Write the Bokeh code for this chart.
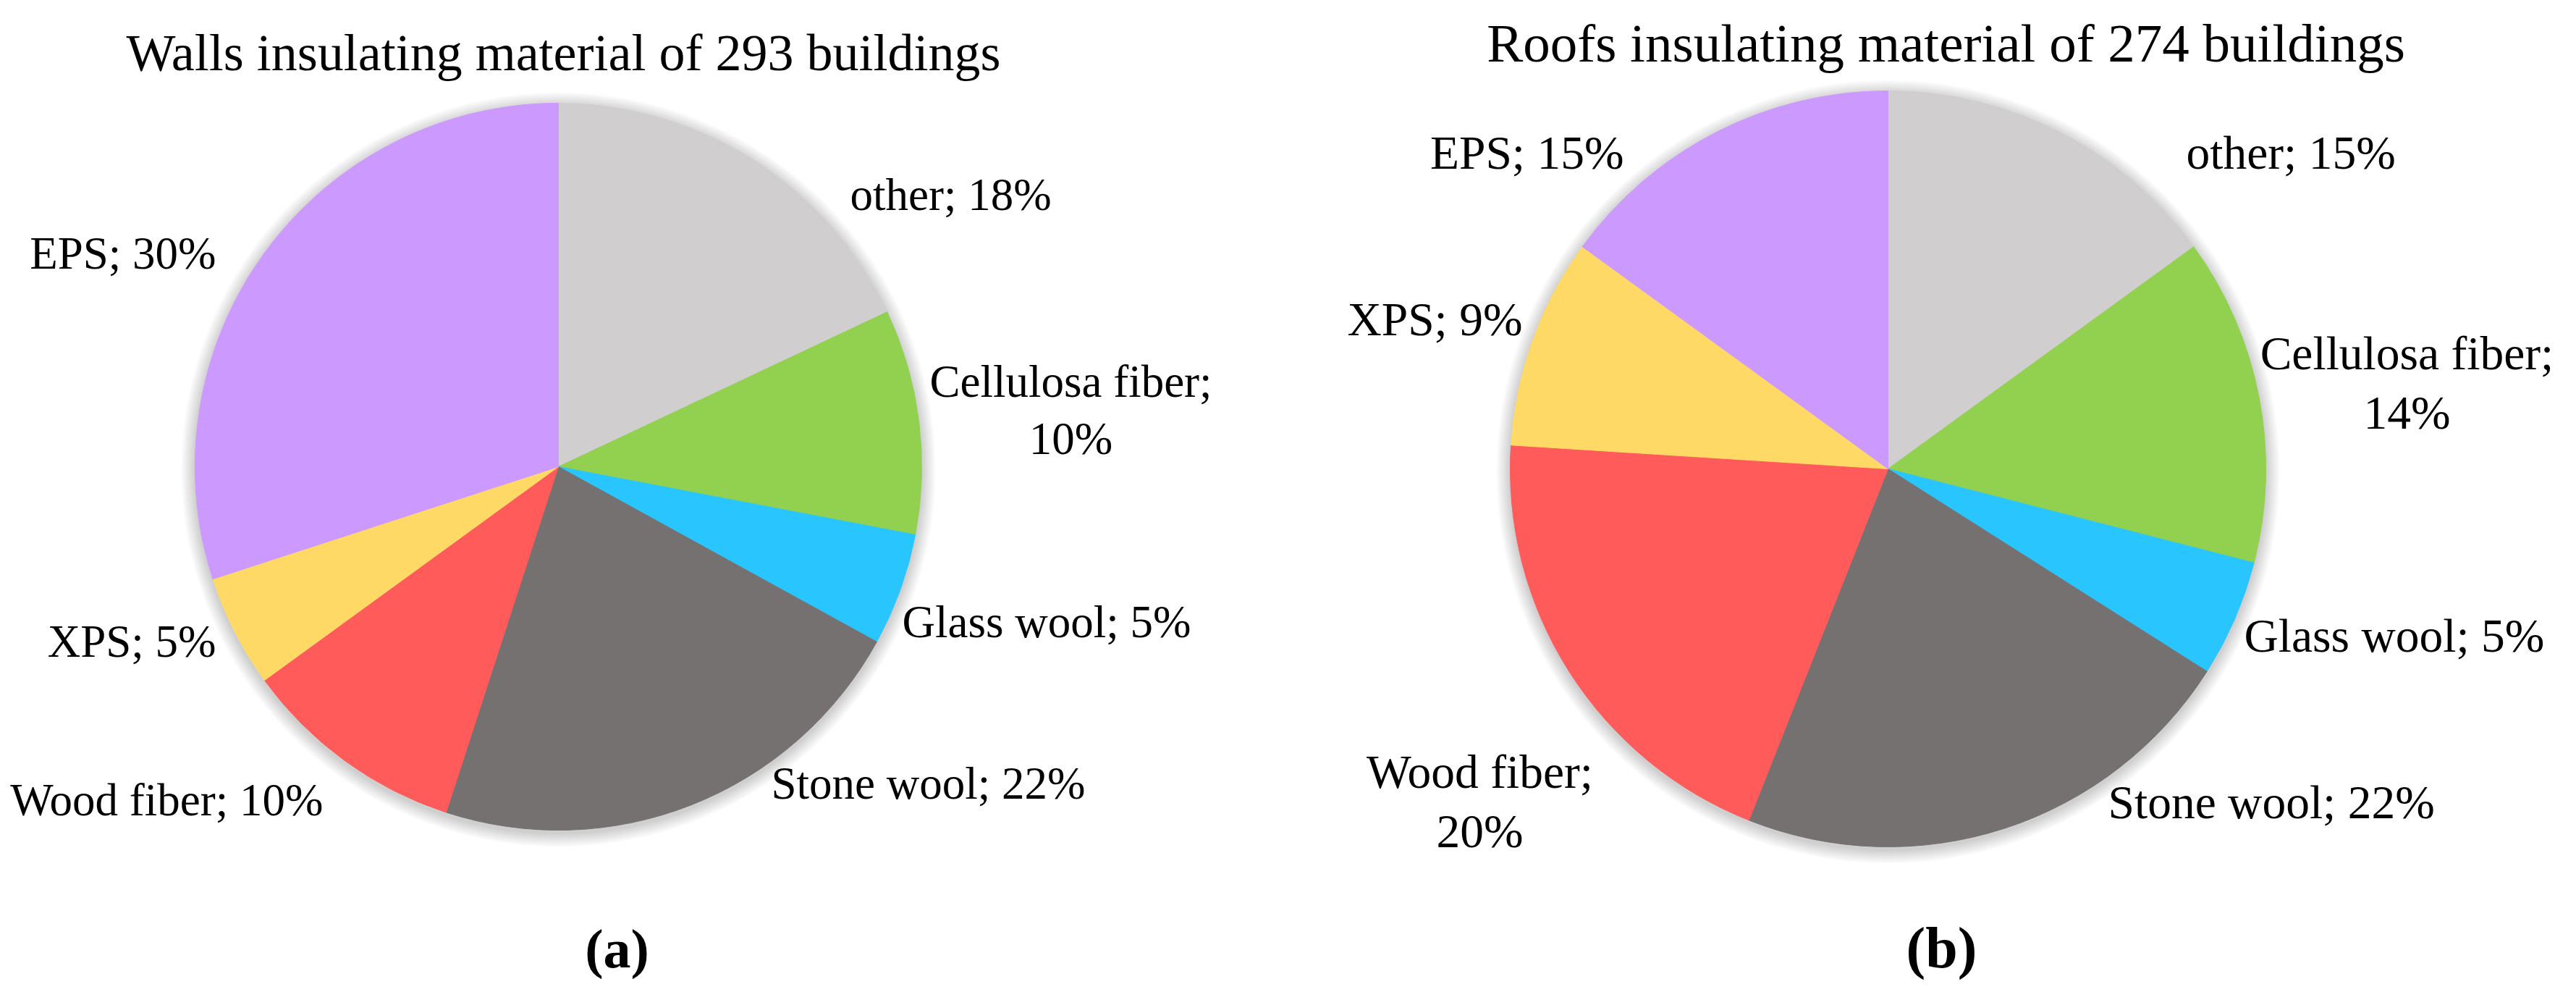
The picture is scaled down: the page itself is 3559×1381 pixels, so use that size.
import math
from bokeh.plotting import figure
from bokeh.models import Range1d, ColumnDataSource
from bokeh.core.properties import value
from bokeh.embed import file_html
from bokeh.resources import INLINE

# ---------------- data ----------------
categories = ["other", "Cellulosa fiber", "Glass wool", "Stone wool", "Wood fiber", "XPS", "EPS"]
walls_pct = [18, 10, 5, 22, 10, 5, 30]
roofs_pct = [15, 14, 5, 22, 20, 9, 15]
walls_title = "Walls insulating material of 293 buildings"
roofs_title = "Roofs insulating material of 274 buildings"
captions = ["(a)", "(b)"]

# ---------------- style / layout ----------------
slice_colors = ["#D0CECE", "#92D050", "#29C5FF", "#767171", "#FF5B5B", "#FFD966", "#CC99FF"]
FONT = "Liberation Serif"
BASE_SHIFT = 0.17  # em, compensates the renderer's baseline placement

W, H = 3543, 1365
p = figure(width=W, height=H, x_range=Range1d(8, 8 + W), y_range=Range1d(-(8 + H), -8),
           output_backend="svg", toolbar_location=None, x_axis_type=None, y_axis_type=None,
           min_border=0, outline_line_color=None, background_fill_color="white",
           border_fill_color="white")
p.grid.visible = False

charts = [
    dict(values=walls_pct, title=walls_title, caption=captions[0],
         cx=779, cy=652, r=502, title_x=786, title_y=93, cap_x=860, cap_y=1330,
         label_fs=63, title_fs=72, cap_fs=76,
         # (dx, dy, align, wrap) relative to pie centre, dy = first baseline
         labels=[(403, -365, "left", False), (708, -107, "center", True),
                 (475, 225, "left", False), (294, 448, "left", False),
                 (-325, 471, "right", False), (-473, 252, "right", False),
                 (-473, -284, "right", False)]),
    dict(values=roofs_pct, title=roofs_title, caption=captions[1],
         cx=2616, cy=655, r=522, title_x=2696, title_y=80, cap_x=2690, cap_y=1330,
         label_fs=65.5, title_fs=75, cap_fs=80,
         labels=[(412, -425, "left", False), (717, -148, "center", True),
                 (492, 242, "left", False), (304, 472, "left", False),
                 (-564, 430, "center", True), (-505, -195, "right", False),
                 (-365, -425, "right", False)]),
]


def put_text(x, y, s, fs, align, bold=False):
    p.text(x=[x], y=[-(y - BASE_SHIFT * fs)], text=[s],
           text_font=value(FONT), text_font_size=value(f"{fs}px"),
           text_font_style="bold" if bold else "normal",
           text_align=align, text_baseline="alphabetic", text_color="black")


for c in charts:
    cx, cy, r = c["cx"], c["cy"], c["r"]
    # soft drop shadow
    for k in range(1, 13):
        p.circle(x=[cx], y=[-(cy + 4)], radius=r + 1.6 * k, fill_color="black",
                 fill_alpha=0.016, line_color=None)
    p.circle(x=[cx], y=[-cy], radius=r, fill_color="white", line_color=None)

    vals = c["values"]
    total = float(sum(vals))
    cum = [0.0]
    for v in vals:
        cum.append(cum[-1] + v / total)
    starts = [math.pi / 2 - 2 * math.pi * a for a in cum[:-1]]
    ends = [math.pi / 2 - 2 * math.pi * a for a in cum[1:]]
    src = ColumnDataSource(dict(x=[cx] * len(vals), y=[-cy] * len(vals),
                                start=starts, end=ends, color=slice_colors))
    p.wedge(x="x", y="y", radius=r, start_angle="start", end_angle="end",
            direction="clock", fill_color="color", line_color="color",
            line_width=1, source=src)

    # labels
    fs = c["label_fs"]
    lh = fs * 1.25
    for cat, v, (dx, dy, align, wrap) in zip(categories, vals, c["labels"]):
        lines = [f"{cat};", f"{v}%"] if wrap else [f"{cat}; {v}%"]
        for i, line in enumerate(lines):
            put_text(cx + dx, cy + dy + i * lh, line, fs, align)

    put_text(c["title_x"], c["title_y"], c["title"], c["title_fs"], "center")
    put_text(c["cap_x"], c["cap_y"], c["caption"], c["cap_fs"], "center", bold=True)

open("out.html", "w").write(file_html(p, INLINE))
